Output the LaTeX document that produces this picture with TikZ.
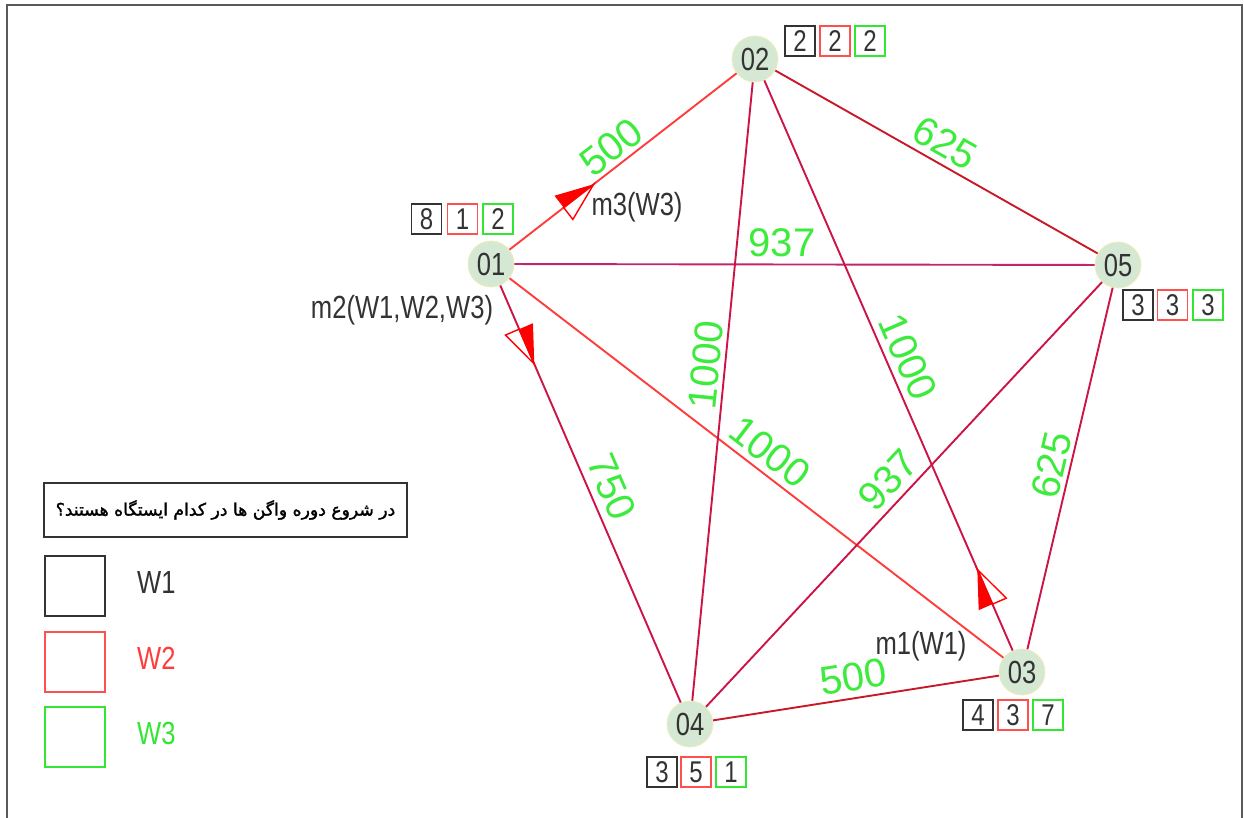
\documentclass[tikz,border=0pt]{standalone}
\usepackage{fontspec}
\usetikzlibrary{calc}
\TeXXeTstate=1
\newfontfamily\cadfont[FakeStretch=0.8]{Liberation Sans}
\newfontfamily\lblfont{Liberation Sans}
\newfontfamily\arabicfont[Script=Arabic,FakeBold=1.6]{DejaVu Sans}
\definecolor{nodefill}{RGB}{213,232,212}
\definecolor{nodeedge}{RGB}{238,238,185}
\definecolor{txtgray}{RGB}{51,51,51}
\definecolor{lblgreen}{RGB}{60,235,60}
\definecolor{boxgreen}{RGB}{50,230,50}
\definecolor{boxred}{RGB}{255,80,80}
\definecolor{lred}{RGB}{255,60,60}
\definecolor{crim}{RGB}{205,20,70}
\definecolor{purp}{RGB}{190,40,105}
\definecolor{dred}{RGB}{200,25,40}
\definecolor{arrred}{RGB}{255,0,0}
\definecolor{framegray}{RGB}{90,90,90}
\begin{document}
\begin{tikzpicture}[x=1pt,y=1pt,
  stn/.style={circle, minimum size=46pt, inner sep=0pt, fill=nodefill, draw=nodeedge, line width=0.8pt, font=\cadfont\fontsize{32}{34}\selectfont, text=txtgray},
  cnt/.style={draw, minimum width=30pt, minimum height=30pt, inner sep=0pt, line width=1.3pt, font=\cadfont\fontsize{30}{32}\selectfont, text=txtgray},
  lbl/.style={text=lblgreen, font=\lblfont\fontsize{40}{42}\selectfont, inner sep=0pt},
  mtxt/.style={text=txtgray, font=\cadfont\fontsize{32}{34}\selectfont, inner sep=0pt},
  edge/.style={line width=1.9pt},
  legbox/.style={draw, minimum width=60pt, minimum height=60pt, inner sep=0pt, line width=1.3pt}
]
\useasboundingbox (0,0) rectangle (1244,-818);
\draw[framegray, line width=1.8pt] (7,-818) -- (7,-5) -- (1242,-5) -- (1242,-818);

% stations
\node[stn] (n01) at (491,-264) {01};
\node[stn] (n02) at (755,-59) {02};
\node[stn] (n05) at (1118,-265) {05};
\node[stn] (n03) at (1022,-672) {03};
\node[stn] (n04) at (690,-724) {04};

% connectors
\draw[edge, lred] (n01) -- (n02);
\draw[edge, lred] (n01) -- (n03);
\draw[edge, purp] (n01) -- (n05);
\draw[edge, crim] (n01) -- (n04);
\draw[edge, crim] (n02) -- (n04);
\draw[edge, crim] (n02) -- (n03);
\draw[edge, dred] (n02) -- (n05);
\draw[edge, crim] (n04) -- (n05);
\draw[edge, crim] (n03) -- (n05);
\draw[edge, dred] (n04) -- (n03);

% distance labels
\node[lbl, rotate=37.8] (l12) at (611,-147) {500};
\node[lbl, rotate=-29.6] (l25) at (945,-143) {625};
\node[lbl, rotate=-0.1] (l15) at (782,-243) {937};
\node[lbl, rotate=84.4] (l24) at (706,-365) {1000};
\node[lbl, rotate=-66.5] (l23) at (908,-357) {1000};
\node[lbl, rotate=-37.5] (l13) at (770,-452) {1000};
\node[lbl, rotate=47] (l45) at (888,-480) {937};
\node[lbl, rotate=76.7] (l35) at (1052,-465) {625};
\node[lbl, rotate=-66.6] (l14) at (612,-487) {750};
\node[lbl, rotate=8.9] (l43) at (853,-677) {500};

% half-filled arrows
\coordinate (a1t) at ($(n01)!130pt!(n02)$);
\coordinate (a1b) at ($(n01)!92pt!(n02)$);
\coordinate (a1l) at ($(a1b)!15pt!90:(a1t)$);
\coordinate (a1r) at ($(a1b)!15pt!-90:(a1t)$);
\fill[arrred] (a1t) -- (a1l) -- (a1b) -- cycle;
\draw[arrred, line width=1.4pt, line join=miter] (a1t) -- (a1r) -- (a1b) -- cycle;

\coordinate (a2t) at ($(n01)!109pt!(n04)$);
\coordinate (a2b) at ($(n01)!71pt!(n04)$);
\coordinate (a2l) at ($(a2b)!15pt!90:(a2t)$);
\coordinate (a2r) at ($(a2b)!15pt!-90:(a2t)$);
\fill[arrred] (a2t) -- (a2l) -- (a2b) -- cycle;
\draw[arrred, line width=1.4pt, line join=miter] (a2t) -- (a2r) -- (a2b) -- cycle;

\coordinate (a3t) at ($(n03)!112pt!(n02)$);
\coordinate (a3b) at ($(n03)!74pt!(n02)$);
\coordinate (a3l) at ($(a3b)!15pt!90:(a3t)$);
\coordinate (a3r) at ($(a3b)!15pt!-90:(a3t)$);
\fill[arrred] (a3t) -- (a3l) -- (a3b) -- cycle;
\draw[arrred, line width=1.4pt, line join=miter] (a3t) -- (a3r) -- (a3b) -- cycle;

% movement labels
\node[mtxt] (m3) at (637,-207) {m3(W3)};
\node[mtxt] (m2) at (402,-310) {m2(W1,W2,W3)};
\node[mtxt] (m1) at (921,-646) {m1(W1)};

% wagon counts
\node[cnt, draw=txtgray] (c01a) at (426.5,-219) {8};
\node[cnt, draw=boxred] (c01b) at (462.5,-219) {1};
\node[cnt, draw=boxgreen] (c01c) at (498,-219) {2};

\node[cnt, draw=txtgray] (c02a) at (800,-41) {2};
\node[cnt, draw=boxred] (c02b) at (835,-41) {2};
\node[cnt, draw=boxgreen] (c02c) at (870,-41) {2};

\node[cnt, draw=txtgray] (c05a) at (1138,-305) {3};
\node[cnt, draw=boxred] (c05b) at (1172.5,-305) {3};
\node[cnt, draw=boxgreen] (c05c) at (1208,-305) {3};

\node[cnt, draw=txtgray] (c03a) at (978,-715) {4};
\node[cnt, draw=boxred] (c03b) at (1013,-715) {3};
\node[cnt, draw=boxgreen] (c03c) at (1048,-715) {7};

\node[cnt, draw=txtgray] (c04a) at (662,-772) {3};
\node[cnt, draw=boxred] (c04b) at (696,-772) {5};
\node[cnt, draw=boxgreen] (c04c) at (731,-772) {1};

% legend
\node[draw=txtgray, line width=1.3pt, minimum width=363pt, minimum height=54pt, inner sep=0pt] (q) at (225.5,-510)
  {\arabicfont\fontsize{17.2}{20}\selectfont\beginR در شروع دوره واگن ها در کدام ایستگاه هستند؟\endR};
\node[legbox, draw=txtgray] (k1) at (75,-586) {};
\node[legbox, draw=boxred] (k2) at (75,-662) {};
\node[legbox, draw=boxgreen] (k3) at (75,-737) {};
\node[mtxt, anchor=west] (t1) at (137,-582) {W1};
\node[mtxt, anchor=west, text=lred] (t2) at (137,-658) {W2};
\node[mtxt, anchor=west, text=boxgreen] (t3) at (137,-733) {W3};
\end{tikzpicture}
\end{document}
